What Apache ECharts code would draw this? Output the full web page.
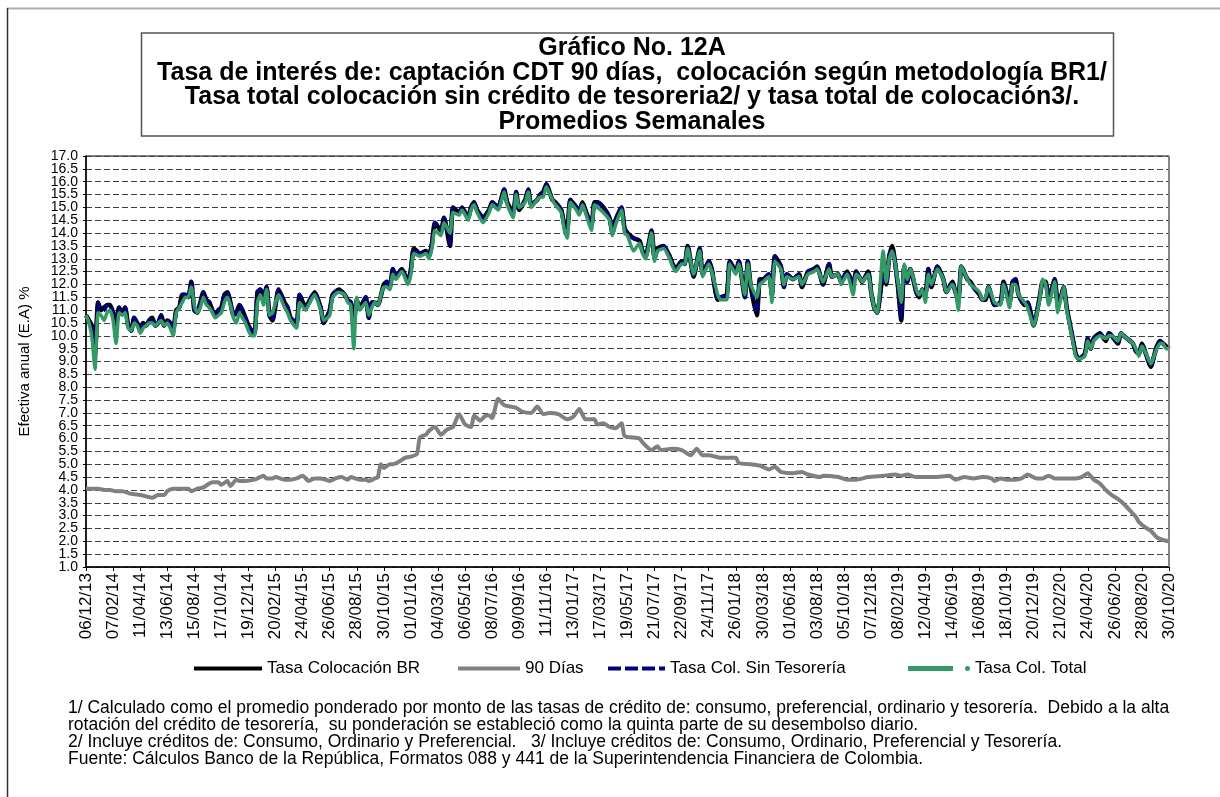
<!DOCTYPE html>
<html lang="es">
<head>
<meta charset="UTF-8">
<title>Gráfico No. 12A</title>
<script src="https://cdn.jsdelivr.net/npm/echarts@6/dist/echarts.min.js"></script>
<style>
  html, body { margin: 0; padding: 0; background: #fff; }
  #chart { width: 1220px; height: 797px; }
</style>
</head>
<body>
<div id="chart"></div>
<script>
// etiquetas del eje x (una cada 9 semanas, semana 0 = 06/12/13)
var fechas = ['06/12/13','07/02/14','11/04/14','13/06/14','15/08/14','17/10/14','19/12/14','20/02/15',
  '24/04/15','26/06/15','28/08/15','30/10/15','01/01/16','04/03/16','06/05/16','08/07/16','09/09/16',
  '11/11/16','13/01/17','17/03/17','19/05/17','21/07/17','22/09/17','24/11/17','26/01/18','30/03/18',
  '01/06/18','03/08/18','05/10/18','07/12/18','08/02/19','12/04/19','14/06/19','16/08/19','18/10/19',
  '20/12/19','21/02/20','24/04/20','26/06/20','28/08/20','30/10/20'];

// semanas leidas para las tasas de colocacion
var semanasCol = [0,1,2,3,4,5,6,7,8,9,10,11,12,13,14,15,16,17,18,19,20,21,22,23,24,25,26,27,28,29,30,
  31,32,33,34,35,36,37,38,39,40,41,42,43,44,45,46,47,48,49,50,51,52,53,54,55,56,57,58,59,60,61,62,63,64,
  66,67,68,70,71,73,74,76,78,79,81,82,84,86,87,88,89,90,91,93,94,95,96,97,99,100,101,102,103,105,107,108,
  109,111,113,114,115,116,118,119,121,122,124,125,127,128,129,130,132,134,135,137,139,140,142,143,144,146,
  147,148,150,151,152,153,155,156,158,159,160,161,163,164,165,166,168,169,170,172,174,175,176,178,179,180,
  182,184,185,186,188,189,190,192,194,195,196,198,199,200,202,204,205,207,208,210,211,213,214,216,217,219,
  220,221,223,224,225,227,228,229,231,232,233,235,237,238,240,242,243,245,247,248,250,251,253,255,256,257,
  258,260,261,262,263,265,266,267,268,269,270,271,272,273,274,276,277,278,279,280,281,283,285,286,288,289,
  290,291,293,294,295,297,298,299,300,302,304,305,307,308,309,310,312,313,315,317,318,319,320,322,323,324,
  325,326,328,329,330,332,333,334,335,337,339,340,341,343,344,345,346,348,349,350,351,352,354,355,356,357,
  358,359,360];

var tasaBR = [10.8,10.6,10.4,9.3,11.3,11.0,11.1,11.2,11.2,10.9,10.5,11.1,10.9,11.1,10.4,10.2,10.7,10.5,10.3,
  10.5,10.4,10.6,10.7,10.4,10.5,10.8,10.4,10.6,10.5,10.3,11.0,11.1,11.6,11.6,11.5,12.1,11.0,10.9,11.3,11.7,
  11.4,11.3,11.0,10.8,11.0,11.1,11.6,11.7,11.3,10.8,10.9,11.2,11.0,10.7,10.4,10.2,10.1,11.7,11.8,11.5,11.9,
  10.8,10.6,11.2,11.8,
  11.3,11.1,10.7,10.5,11.6,11.1,11.3,11.7,11.1,10.5,11.0,11.6,11.8,11.6,11.4,11.3,10.5,11.4,11.1,11.5,10.7,
  11.3,11.3,11.2,12.0,12.1,11.9,12.6,12.3,12.6,12.1,12.6,
  13.4,13.2,13.3,13.1,13.6,14.4,14.1,14.6,13.5,15.0,14.8,15.0,14.6,15.0,15.2,14.9,14.6,14.9,15.2,15.0,15.7,
  15.2,14.8,15.6,14.9,15.3,
  15.7,15.1,15.3,15.5,15.6,15.9,15.3,15.2,14.9,14.3,14.2,15.3,15.0,14.8,15.2,14.9,14.3,15.2,15.2,15.0,14.6,
  14.0,14.5,15.0,14.2,14.0,
  13.8,13.7,13.3,13.1,14.1,13.0,13.4,13.5,13.1,12.8,12.6,12.9,12.8,13.5,12.3,13.4,12.4,12.9,12.6,11.4,11.5,
  11.6,12.9,12.5,12.9,11.5,
  12.9,11.9,10.8,12.2,12.2,12.4,11.6,13.1,12.7,11.9,12.4,12.2,12.4,11.9,12.5,12.6,12.7,12.0,12.8,12.3,12.4,
  12.1,12.5,12.0,12.5,12.3,
  12.1,12.5,11.7,11.1,10.9,12.4,12.0,13.1,13.5,12.8,11.8,10.6,12.7,12.1,12.6,11.7,11.5,11.8,11.6,12.6,11.9,
  12.7,12.2,11.7,12.1,11.7,
  11.4,12.7,12.2,12.1,11.9,11.6,11.4,11.4,11.9,11.2,11.3,12.1,11.3,12.1,12.2,11.6,11.2,11.3,10.4,11.5,12.1,
  12.1,11.4,12.2,11.3,11.5,
  11.9,11.1,9.9,9.3,9.1,9.3,9.9,9.5,9.9,10.1,9.8,10.1,10.0,9.7,10.1,10.0,9.9,9.7,9.4,9.3,9.7,9.4,8.8,9.2,
  9.6,9.8,
  9.7,9.6,9.5];

var tasaSinTes = [10.8,10.6,10.3,9.2,11.3,11.0,11.0,11.2,11.2,10.8,10.4,11.1,10.9,11.1,10.4,10.2,10.7,10.5,10.3,
  10.5,10.4,10.6,10.7,10.4,10.5,10.8,10.4,10.6,10.5,10.2,11.0,11.1,11.6,11.6,11.5,12.1,11.0,10.9,11.3,11.7,
  11.4,11.3,11.0,10.8,11.0,11.1,11.6,11.7,11.3,10.8,10.9,11.2,11.0,10.7,10.4,10.2,10.1,11.7,11.8,11.5,11.9,
  10.8,10.6,11.2,11.8,
  11.3,11.1,10.7,10.5,11.6,11.1,11.3,11.7,11.1,10.5,11.0,11.6,11.8,11.6,11.4,11.3,10.3,11.4,11.1,11.5,10.7,
  11.3,11.3,11.2,12.0,12.1,11.9,12.6,12.3,12.6,12.1,12.6,
  13.4,13.2,13.3,13.1,13.6,14.4,14.1,14.6,13.6,15.0,14.8,15.0,14.6,15.0,15.2,14.9,14.6,14.9,15.2,15.0,15.7,
  15.2,14.8,15.6,14.9,15.3,
  15.7,15.1,15.3,15.5,15.6,15.9,15.3,15.2,14.9,14.3,14.2,15.3,15.0,14.8,15.2,14.9,14.3,15.2,15.2,15.0,14.6,
  14.0,14.5,15.0,14.2,14.0,
  13.8,13.7,13.3,13.1,14.1,13.0,13.4,13.5,13.1,12.8,12.6,12.9,12.8,13.5,12.3,13.4,12.4,12.9,12.6,11.4,11.5,
  11.6,12.9,12.5,12.9,11.5,
  12.9,11.9,10.9,12.2,12.2,12.4,11.6,13.1,12.7,11.9,12.4,12.2,12.4,11.9,12.5,12.6,12.7,12.0,12.8,12.3,12.4,
  12.1,12.5,12.0,12.5,12.3,
  12.1,12.5,11.7,11.1,10.9,12.4,12.0,13.1,13.4,12.8,11.8,10.7,12.7,12.1,12.6,11.7,11.5,11.8,11.6,12.6,11.9,
  12.7,12.2,11.7,12.1,11.7,
  11.4,12.7,12.2,12.1,11.9,11.6,11.4,11.4,11.9,11.2,11.3,12.1,11.3,12.1,12.2,11.6,11.2,11.3,10.5,11.5,12.1,
  12.1,11.4,12.2,11.3,11.5,
  11.9,11.1,9.9,9.3,9.1,9.3,9.9,9.5,9.9,10.1,9.8,10.1,10.0,9.7,10.1,10.0,9.9,9.7,9.4,9.3,9.7,9.4,8.8,9.2,
  9.6,9.8,
  9.7,9.6,9.5];

var tasaTotal = [10.8,10.5,9.9,8.7,10.9,10.8,10.6,10.9,11.0,10.6,9.7,10.9,10.8,10.9,10.3,10.2,10.5,10.4,10.1,
  10.3,10.4,10.5,10.5,10.4,10.5,10.6,10.4,10.5,10.3,10.0,10.9,11.1,11.3,11.5,11.5,11.9,11.2,10.9,11.1,11.5,
  11.2,11.1,10.9,10.7,10.8,10.9,11.3,11.5,11.2,10.7,10.5,10.9,10.7,10.5,10.2,10.0,10.0,11.3,11.6,11.2,11.8,
  10.8,10.9,11.3,11.6,
  11.1,10.9,10.6,10.3,11.3,11.0,11.2,11.6,11.0,10.6,10.8,11.5,11.7,11.6,11.3,11.2,9.5,11.5,11.0,11.3,10.8,
  11.1,11.3,11.2,11.9,11.9,11.8,12.4,12.2,12.5,12.0,12.4,
  13.2,13.1,13.2,13.0,13.4,14.1,13.9,14.4,14.0,14.8,14.7,14.9,14.5,14.9,15.1,14.8,14.4,14.8,15.1,14.9,15.6,
  15.1,14.6,15.5,15.0,15.2,
  15.6,15.0,15.3,15.4,15.4,15.8,15.3,15.1,14.8,14.1,13.8,15.2,14.9,14.7,15.1,14.8,14.1,15.1,15.0,14.8,14.5,
  13.9,14.3,14.9,14.0,13.9,
  13.3,13.6,13.2,13.0,14.0,12.9,13.3,13.4,13.0,12.7,12.5,12.8,12.8,13.4,12.4,13.3,12.3,12.8,12.5,11.6,11.4,
  11.4,12.8,12.4,12.8,11.6,
  12.8,12.0,11.5,12.0,12.1,12.3,11.3,12.9,12.6,12.0,12.3,12.2,12.3,12.0,12.4,12.5,12.6,12.1,12.6,12.3,12.4,
  12.0,12.4,11.6,12.4,12.3,
  12.1,12.4,11.7,11.1,10.9,13.3,12.1,13.0,13.3,12.8,12.0,11.3,12.8,12.2,12.6,11.8,11.6,11.8,11.3,12.4,12.0,
  12.6,12.2,11.7,12.0,11.7,
  11.0,12.7,12.2,12.0,11.9,11.7,11.4,11.5,11.9,11.3,11.2,12.0,11.1,12.0,12.0,11.6,11.3,11.1,10.4,11.4,12.2,
  12.0,11.2,12.1,10.9,11.4,
  11.9,11.0,9.8,9.2,9.1,9.2,9.8,9.5,9.8,10.0,9.9,10.0,10.0,9.8,10.1,10.0,9.9,9.7,9.5,9.2,9.6,9.4,8.9,9.2,
  9.5,9.7,
  9.7,9.5,9.5];

// captacion CDT 90 dias
var semanas90 = [0,4,6,8,10,12,15,18,20,22,24,26,27,29,32,34,35,37,39,41,42,44,45,47,48,50,51,53,56,57,59,
  60,62,63,66,68,70,72,74,76,78,81,83,85,87,88,91,93,94,96,97,98,99,101,102,104,106,108,110,111,113,114,116,
  118,120,122,124,126,128,129,131,133,134,135,137,139,141,143,145,148,150,152,154,157,160,162,164,166,169,
  170,172,174,176,178,179,181,184,185,188,190,191,195,198,201,203,205,207,211,216,217,221,224,227,229,231,
  235,238,240,244,245,250,253,256,260,265,269,271,273,276,282,287,289,292,295,298,301,302,304,306,309,311,
  313,316,318,320,322,324,327,329,331,333,335,337,339,341,343,345,347,349,350,352,354,356,358,360];
var tasa90 = [4.05,4.05,4.0,4.0,3.95,3.95,3.85,3.8,3.75,3.7,3.8,3.8,3.95,4.05,4.05,4.05,3.95,4.05,4.1,4.25,
  4.3,4.3,4.2,4.35,4.15,4.4,4.35,4.35,4.4,4.45,4.55,
  4.45,4.45,4.5,4.4,4.4,4.45,4.55,4.35,4.45,4.45,4.35,4.45,4.5,4.4,4.5,4.4,4.4,4.35,4.45,4.5,5.0,4.85,
  5.0,5.0,5.1,5.25,5.3,5.4,6.05,6.15,6.3,6.45,
  6.15,6.35,6.45,6.95,6.55,6.45,6.9,6.7,6.9,6.9,6.8,7.55,7.3,7.25,7.2,7.05,7.0,7.25,6.95,7.0,6.95,6.75,
  6.85,7.15,6.75,6.75,
  6.55,6.6,6.45,6.4,6.6,6.1,6.05,6.0,5.85,5.55,5.7,5.55,5.6,5.55,5.35,5.6,5.35,5.35,5.25,5.25,5.05,5.0,
  4.95,4.8,4.9,4.7,
  4.65,4.7,4.6,4.5,4.55,4.5,4.4,4.4,4.5,4.55,4.6,4.55,4.6,4.5,4.5,4.55,4.4,4.5,4.45,4.5,4.45,4.35,
  4.45,4.4,4.4,4.45,
  4.6,4.45,4.45,4.55,4.45,4.45,4.45,4.45,4.5,4.65,4.4,4.25,4.0,3.8,3.65,3.45,3.2,2.95,2.75,2.55,2.4,
  2.15,2.05,2.0];

function pares(xs, ys) {
  return xs.map(function (x, i) { return [x, ys[i]]; });
}

var chart = echarts.init(document.getElementById('chart'));

var ejeY = { type: 'value', min: 1, max: 17, interval: 0.5, position: 'left', gridIndex: 0 };

var option = {
  backgroundColor: '#fff',
  animation: false,
  textStyle: { fontFamily: 'Liberation Sans, Arial, sans-serif', color: '#000' },
  title: {
    text: 'Gráfico No. 12A\nTasa de interés de: captación CDT 90 días,  colocación según metodología BR1/\n' +
      'Tasa total colocación sin crédito de tesoreria2/ y tasa total de colocación3/.\nPromedios Semanales',
    left: 627,
    textAlign: 'center',
    top: 31,
    textStyle: { fontSize: 25, fontWeight: 'bold', lineHeight: 24.6, color: '#000',
      fontFamily: 'Liberation Sans, Arial, sans-serif' }
  },
  graphic: [
    { type: 'line', shape: { x1: 7, y1: 8.5, x2: 1220, y2: 8.5 }, style: { stroke: '#b0b0b0', lineWidth: 2 } },
    { type: 'line', shape: { x1: 7.5, y1: 8, x2: 7.5, y2: 797 }, style: { stroke: '#333', lineWidth: 1.5 } },
    { type: 'rect', shape: { x: 141.5, y: 33, width: 972, height: 103 },
      style: { fill: 'none', stroke: '#555', lineWidth: 1.5 } },
    // borde derecho gris del area de trazado
    { type: 'line', z: 10, shape: { x1: 1169, y1: 156, x2: 1169, y2: 567 }, style: { stroke: '#888', lineWidth: 1.5 } },
    { type: 'text', left: 68, top: 699,
      style: { text: '1/ Calculado como el promedio ponderado por monto de las tasas de crédito de: consumo, preferencial, ordinario y tesorería.  Debido a la alta\n' +
        'rotación del crédito de tesorería,  su ponderación se estableció como la quinta parte de su desembolso diario.\n' +
        '2/ Incluye créditos de: Consumo, Ordinario y Preferencial.   3/ Incluye créditos de: Consumo, Ordinario, Preferencial y Tesorería.\n' +
        'Fuente: Cálculos Banco de la República, Formatos 088 y 441 de la Superintendencia Financiera de Colombia.',
        font: '17.5px "Liberation Sans", Arial, sans-serif', lineHeight: 17, fill: '#000' } }
  ],
  legend: [
    { data: [{ name: 'Tasa Colocación BR', icon: 'rect' }], left: 189, top: 655, itemWidth: 68, itemHeight: 4,
      itemGap: 4, textStyle: { fontSize: 17, color: '#000' } },
    { data: [{ name: '90 Días', icon: 'rect' }], left: 453, top: 655, itemWidth: 62, itemHeight: 4,
      textStyle: { fontSize: 17, color: '#000' } },
    { data: [{ name: 'Tasa Col. Sin Tesorería',
        icon: 'path://M0,0h13v4h-13z M17,0h13v4h-13z M34,0h13v4h-13z M51,0h6v4h-6z' }],
      left: 603, top: 655, itemWidth: 57, itemHeight: 4, textStyle: { fontSize: 17, color: '#000' } },
    { data: [{ name: 'Tasa Col. Total', icon: 'path://M0,0h45v5h-45z M57,2.5a2.5,2.5 0 1,0 5,0a2.5,2.5 0 1,0 -5,0z' }],
      left: 903, top: 655, itemWidth: 62, itemHeight: 5, textStyle: { fontSize: 17, color: '#000' } }
  ],
  grid: { left: 86, right: 51, top: 156, bottom: 230, show: true, borderColor: '#000', borderWidth: 1 },
  xAxis: {
    type: 'value', min: 0, max: 360, interval: 9,
    axisLine: { lineStyle: { color: '#000', width: 1.5 } },
    axisTick: { show: true, length: 4, lineStyle: { color: '#000' } },
    splitLine: { show: false },
    axisLabel: {
      rotate: 90, fontSize: 17, color: '#000', margin: 6, showMinLabel: true, showMaxLabel: true,
      formatter: function (v) { return fechas[Math.round(v / 9)] || ''; }
    }
  },
  yAxis: [
    // eje principal: lineas, marcas y etiquetas enteras
    Object.assign({}, ejeY, {
      name: 'Efectiva anual (E.A) %', nameLocation: 'middle', nameGap: 54, nameRotate: 90,
      nameTextStyle: { fontSize: 15, color: '#000' },
      axisLine: { show: true, lineStyle: { color: '#000', width: 1.5 } },
      axisTick: { show: true, length: 3, lineStyle: { color: '#000' } },
      axisLabel: { fontSize: 14, color: '#000', margin: 8, showMinLabel: true, showMaxLabel: true,
        formatter: function (v) { return Math.abs(v - Math.round(v)) < 1e-6 ? v.toFixed(1) : ''; } },
      splitLine: { show: true, lineStyle: { color: '#404040', type: [6, 3], width: 1 } }
    }),
    // etiquetas de medio punto
    Object.assign({}, ejeY, {
      axisLine: { show: false }, axisTick: { show: false }, splitLine: { show: false },
      axisLabel: { fontSize: 14, color: '#000', margin: 8,
        formatter: function (v) { return Math.abs(v - Math.round(v)) < 1e-6 ? '' : v.toFixed(1); } }
    })
  ],
  series: [
    { name: '90 Días', type: 'line', data: pares(semanas90, tasa90), symbol: 'none', smooth: 0.2,
      lineStyle: { color: '#808080', width: 4 }, itemStyle: { color: '#808080' }, z: 2 },
    { name: 'Tasa Colocación BR', type: 'line', data: pares(semanasCol, tasaBR), symbol: 'none', smooth: 0.2,
      lineStyle: { color: '#000', width: 4.5 }, itemStyle: { color: '#000' }, z: 3 },
    { name: 'Tasa Col. Sin Tesorería', type: 'line', data: pares(semanasCol, tasaSinTes), symbol: 'none', smooth: 0.2,
      lineStyle: { color: '#000080', width: 4, type: [8, 4] }, itemStyle: { color: '#000080' }, z: 4 },
    { name: 'Tasa Col. Total', type: 'line', data: pares(semanasCol, tasaTotal), symbol: 'none', smooth: 0.2,
      lineStyle: { color: '#339966', width: 3.5 }, itemStyle: { color: '#339966' }, z: 5 }
  ]
};

chart.setOption(option);
</script>
</body>
</html>
